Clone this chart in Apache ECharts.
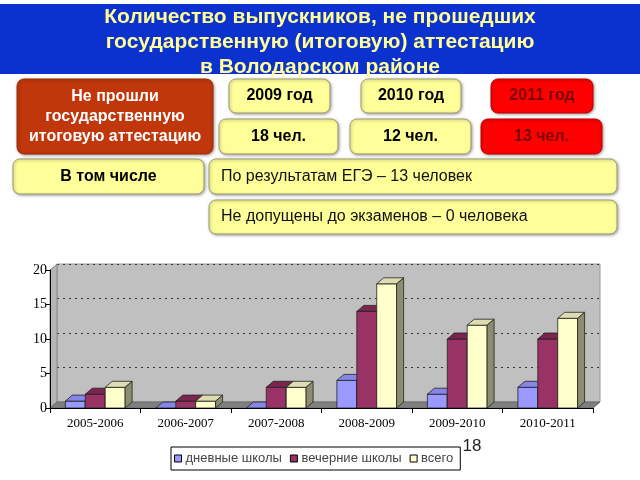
<!DOCTYPE html>
<html lang="ru">
<head>
<meta charset="UTF-8">
<title>Выпускники, не прошедшие аттестацию</title>
<script src="https://cdn.jsdelivr.net/npm/echarts@6.0.0/dist/echarts.min.js"></script>
<style>
    html, body { margin: 0; padding: 0; background: #fff; }
    #chart { width: 640px; height: 480px; }
</style>
</head>
<body>
<div id="chart"></div>
<script>
    // данные диаграммы
    const years = ['2005-2006', '2006-2007', '2007-2008', '2008-2009', '2009-2010', '2010-2011'];
    const seriesNames = ['дневные школы', 'вечерние школы', 'всего'];
    const dayValues = [1, 0, 0, 4, 2, 3];
    const eveningValues = [2, 1, 3, 14, 10, 10];
    const totalValues = [3, 1, 3, 18, 12, 13];
    const yTicks = [0, 5, 10, 15, 20];

    // тексты слайда
    const titleLines = ['Количество выпускников, не прошедших', 'государственную (итоговую) аттестацию', 'в Володарском районе'];
    const headLines = ['Не прошли', 'государственную', 'итоговую аттестацию'];
    const yearBoxes = ['2009 год', '2010 год', '2011 год'];
    const countBoxes = ['18 чел.', '12 чел.', '13 чел.'];
    const inclLabel = 'В том числе';
    const detailLines = ['По результатам ЕГЭ – 13 человек', 'Не допущены до экзаменов – 0 человека'];
    const slideNo = '18';

    const DX = 7, DY = 6; // глубина 3D
    const palette = [
        { front: '#9999ff', top: '#8686e8', side: '#6464b4' },
        { front: '#993366', top: '#7a2450', side: '#5a1a3b' },
        { front: '#ffffcc', top: '#deddb2', side: '#8c8c6e' }
    ];

    function bar3d(slot, c) {
        return function (params, api) {
            const idx = api.value(0);
            const top = api.coord([idx, api.value(1)]);
            const base = api.coord([idx, 0]);
            const w = api.size([1, 0])[0] * 0.22;
            const x0 = top[0] + (slot - 1.5) * w;
            const x1 = x0 + w;
            const y = top[1], yb = base[1];
            const edge = { stroke: '#222', lineWidth: 0.8 };
            return {
                type: 'group',
                children: [
                    { type: 'rect', shape: { x: x0, y: y, width: w, height: yb - y },
                      style: Object.assign({ fill: c.front }, edge) },
                    { type: 'polygon', shape: { points: [[x0, y], [x1, y], [x1 + DX, y - DY], [x0 + DX, y - DY]] },
                      style: Object.assign({ fill: c.top }, edge) },
                    { type: 'polygon', shape: { points: [[x1, y], [x1 + DX, y - DY], [x1 + DX, yb - DY], [x1, yb]] },
                      style: Object.assign({ fill: c.side }, edge) }
                ]
            };
        };
    }

    function floor(params) {
        const cs = params.coordSys;
        const x0 = cs.x, x1 = cs.x + cs.width, yt = cs.y, yb = cs.y + cs.height;
        return {
            type: 'group',
            children: [
                { type: 'polygon', shape: { points: [[x0, yt], [x0 + DX, yt - DY], [x0 + DX, yb - DY], [x0, yb]] },
                  style: { fill: '#b5b5b5', stroke: '#8a8a8a', lineWidth: 1 } },
                { type: 'polygon', shape: { points: [[x0, yb], [x1, yb], [x1 + DX, yb - DY], [x0 + DX, yb - DY]] },
                  style: { fill: '#7f7f7f', stroke: '#6a6a6a', lineWidth: 1 } }
            ]
        };
    }

    const valueSets = [dayValues, eveningValues, totalValues];
    const barSeries = seriesNames.map((name, s) => ({
        name: name,
        type: 'custom',
        xAxisIndex: 0,
        yAxisIndex: 0,
        itemStyle: { color: palette[s].front },
        renderItem: bar3d(s, palette[s]),
        data: years.map((y, i) => [i, valueSets[s][i]])
    }));

    // плашки над диаграммой
    const sans = '"Liberation Sans", Arial, sans-serif';
    const boxFont = 'bold 16px ' + sans;
    const shadow = { shadowBlur: 3, shadowColor: 'rgba(0,0,0,0.35)', shadowOffsetX: 1, shadowOffsetY: 1 };
    const yellow = Object.assign({ fill: '#ffff99', stroke: '#9c9c74', lineWidth: 1 }, shadow);
    const red = Object.assign({ fill: '#ff0000', stroke: '#c00000', lineWidth: 1 }, shadow);
    const brown = Object.assign({ fill: '#c0370c', stroke: '#9e2c08', lineWidth: 1 }, shadow);

    function box(x, y, w, h, st, text, font, color, align) {
        return [
            { type: 'rect', shape: { x: x, y: y, width: w, height: h, r: 7 }, style: st },
            { type: 'text', style: {
                text: text, x: align === 'left' ? x + 12 : x + w / 2, y: y + h / 2,
                align: align || 'center', verticalAlign: 'middle',
                font: font, fill: color, lineHeight: 20 } }
        ];
    }

    const yearX = [[229, 101], [361, 100], [491, 102]];
    const countX = [[219, 119], [350, 121], [481, 121]];
    let graphics = [
        { type: 'rect', shape: { x: 0, y: 4, width: 640, height: 70 }, style: { fill: '#0b31cf' } },
        { type: 'text', style: { text: titleLines.join('\n'), x: 320, y: 42, align: 'center', verticalAlign: 'middle',
            font: 'bold 21px ' + sans, fill: '#ffff99', lineHeight: 25 } },
        { type: 'text', style: { text: slideNo, x: 472, y: 446, align: 'center', verticalAlign: 'middle',
            font: '17px ' + sans, fill: '#222' } }
    ];
    graphics = graphics.concat(box(17, 79, 196, 75, brown, headLines.join('\n'), boxFont, '#ffffff'));
    yearBoxes.forEach((t, i) => {
        graphics = graphics.concat(box(yearX[i][0], 79, yearX[i][1], 34, i === 2 ? red : yellow, t, boxFont, i === 2 ? '#7a0000' : '#000'));
        graphics = graphics.concat(box(countX[i][0], 119, countX[i][1], 35, i === 2 ? red : yellow, countBoxes[i], boxFont, i === 2 ? '#7a0000' : '#000'));
    });
    graphics = graphics.concat(box(13, 159, 191, 35, yellow, inclLabel, boxFont, '#000'));
    graphics = graphics.concat(box(209, 159, 408, 35, yellow, detailLines[0], '16px ' + sans, '#111', 'left'));
    graphics = graphics.concat(box(209, 200, 408, 34, yellow, detailLines[1], '16px ' + sans, '#111', 'left'));

    const serif = '"Liberation Serif", "Times New Roman", serif';
    const chart = echarts.init(document.getElementById('chart'));
    chart.setOption({
        animation: false,
        backgroundColor: '#ffffff',
        grid: [
            { left: 50, right: 47, top: 270, bottom: 72, show: false },
            { left: 50 + DX, right: 47 - DX, top: 270 - DY, bottom: 72 + DY, show: true,
              backgroundColor: '#c0c0c0', borderColor: '#9a9a9a', borderWidth: 1 }
        ],
        xAxis: [
            { type: 'category', gridIndex: 0, data: years, z: 5,
              axisLine: { lineStyle: { color: '#000', width: 1 } },
              axisTick: { show: true, length: 5, lineStyle: { color: '#000' } },
              axisLabel: { color: '#000', fontFamily: serif, fontSize: 13, margin: 9 } },
            { type: 'category', gridIndex: 1, data: years, show: false }
        ],
        yAxis: [
            { type: 'value', gridIndex: 0, min: yTicks[0], max: yTicks[yTicks.length - 1], interval: 5, z: 5,
              axisLine: { show: true, lineStyle: { color: '#000', width: 1 } },
              axisTick: { show: true, length: 4, lineStyle: { color: '#000' } },
              axisLabel: { color: '#000', fontFamily: serif, fontSize: 14, margin: 3 },
              splitLine: { show: false } },
            { type: 'value', gridIndex: 1, min: yTicks[0], max: yTicks[yTicks.length - 1], interval: 5,
              axisLine: { show: false }, axisTick: { show: false }, axisLabel: { show: false },
              splitLine: { show: true, lineStyle: { color: '#333', type: [2, 4], width: 1 } } }
        ],
        legend: {
            data: seriesNames,
            left: 171, top: 447,
            icon: 'rect', itemWidth: 7, itemHeight: 7, itemGap: 8,
            padding: [5, 7, 5, 3],
            borderColor: '#000', borderWidth: 1,
            itemStyle: { borderColor: '#000', borderWidth: 1 },
            textStyle: { fontFamily: sans, fontSize: 13, color: '#444', padding: [0, 0, 0, -1] }
        },
        graphic: graphics,
        series: [{
            name: 'floor', type: 'custom', silent: true, xAxisIndex: 0, yAxisIndex: 0,
            renderItem: floor, data: [[0, 0]]
        }].concat(barSeries)
    });
</script>
</body>
</html>
